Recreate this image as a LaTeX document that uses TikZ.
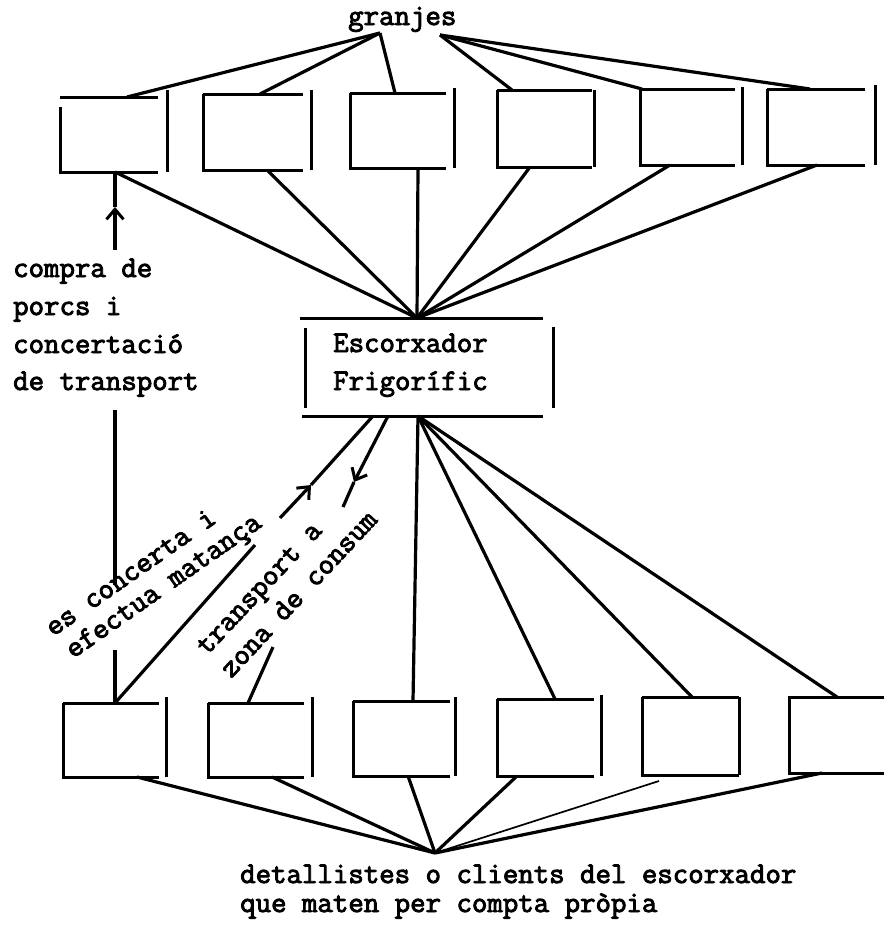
\documentclass[tikz,border=0pt]{standalone}
\usepackage{fontspec}
\setmonofont{Latin Modern Mono}[FakeBold=3]
\usetikzlibrary{arrows.meta}
\newcommand{\bbox}[7]{%
  \draw[boxln] (#1,#3) -- (#2,#3);
  \draw[boxln] (#1,#5) -- (#1,#4) -- (#2,#4);
  \draw[boxln] (#6,#7) -- (#6,#4);}
\begin{document}
\begin{tikzpicture}[x=1pt,y=-1pt,
  boxln/.style={line width=3pt},
  cn/.style={line width=3.2pt},
  cnthin/.style={line width=1.7pt},
  barb/.style={-{Straight Barb[length=10pt,width=17pt,line width=3pt]}},
  txt/.style={font=\ttfamily\fontsize{30}{37.7}\selectfont, inner sep=0pt, anchor=base west}]
\useasboundingbox (0,0) rectangle (887,929);
% top row boxes
\bbox{60}{158}{97}{172}{107}{167}{90}
\bbox{203}{303}{94}{170}{94}{311}{90}
\bbox{350}{446}{93}{168}{93}{454}{88}
\bbox{497}{592}{90}{167}{90}{594}{90}
\bbox{640}{735}{89}{165}{89}{742}{87}
\bbox{767}{865}{89}{165}{89}{875}{85}
% escorxador box
\draw[boxln] (300,318) -- (543,318);
\draw[boxln] (305,328) -- (305,408);
\draw[boxln] (553,327) -- (553,408);
\draw[boxln] (302,416) -- (543,416);
% bottom row boxes
\bbox{63}{159}{703}{777}{703}{166}{697}
\bbox{208}{304}{703}{777}{703}{312}{697}
\bbox{353}{450}{701}{776}{701}{455}{697}
\bbox{497}{594}{699}{776}{699}{601}{695}
\bbox{642}{739}{697}{775}{697}{739}{697}
\draw[boxln] (884,697) -- (789,697) -- (789,773) -- (884,773);
% texts
\node[txt] (granjes) at (348,25) {granjes};
\node[txt] (c1) at (13,277) {compra de};
\node[txt] (c2) at (13,315) {porcs i};
\node[txt] (c3) at (13,353) {concertació};
\node[txt] (c4) at (13,390) {de transport};
\node[txt] (e1) at (333,352) {Escorxador};
\node[txt] (e2) at (333,390) {Frigorífic};
\node[txt,rotate=35] (m1) at (53,637) {es concerta i};
\node[txt,rotate=35] (m2) at (73,659) {efectua matança};
\node[txt,rotate=47] (tr1) at (207,656) {transport a};
\node[txt,rotate=47] (tr2) at (231,679) {zona de consum};
\node[txt] (dt1) at (240,883) {detallistes o clients del escorxador};
\node[txt] (dt2) at (240,912) {que maten per compta pròpia};
% coordinates
\coordinate (g1) at (380,33); \coordinate (g2) at (440,35);
\coordinate (t1) at (127,97); \coordinate (t2) at (260,94); \coordinate (t3) at (395,93);
\coordinate (t4) at (512,90); \coordinate (t5) at (642,89); \coordinate (t6) at (810,89);
\coordinate (u1) at (115,172); \coordinate (u2) at (267,170); \coordinate (u3) at (418,168);
\coordinate (u4) at (530,167); \coordinate (u5) at (670,165); \coordinate (u6) at (817,165);
\coordinate (et) at (417,318);
\coordinate (ea) at (373,416); \coordinate (eb) at (388,416); \coordinate (ec) at (418,416);
\coordinate (d1) at (115,703); \coordinate (d2) at (248,703); \coordinate (d3) at (413,701);
\coordinate (d4) at (555,699); \coordinate (d5) at (692,697); \coordinate (d6) at (837,697);
\coordinate (l1) at (137,777); \coordinate (l2) at (272,777); \coordinate (l3) at (408,776);
\coordinate (l4) at (517,776); \coordinate (l5) at (659,781); \coordinate (l6) at (822,773);
\coordinate (dd) at (435,853);
\coordinate (aA) at (255,545); \coordinate (aB) at (280,518); \coordinate (aC) at (311,485);
\coordinate (bA) at (354,482); \coordinate (bB) at (343,507); \coordinate (bC) at (273,647);
\coordinate (cA) at (115,207); \coordinate (cB) at (115,250); \coordinate (cC) at (115,410);
\coordinate (cD) at (115,585); \coordinate (cE) at (115,650);
% granjes connectors
\foreach \p in {t1,t2,t3} \draw[cn] (g1) -- (\p);
\foreach \p in {t4,t5,t6} \draw[cn] (g2) -- (\p);
% top boxes to escorxador
\foreach \p in {u1,u2,u3,u4,u5,u6} \draw[cn] (\p) -- (et);
% compra de porcs line
\draw[cn,barb] (cB) -- (cA);
\draw[cn] (cA) -- (u1);
\draw[cn] (cC) -- (cD);
\draw[cn] (cE) -- (d1);
% es concerta line
\draw[cn] (d1) -- (aA);
\draw[cn,barb] (aB) -- (aC);
\draw[cn] (aC) -- (ea);
% transport line
\draw[cn,barb] (eb) -- (bA);
\draw[cn] (bA) -- (bB);
\draw[cn] (bC) -- (d2);
% escorxador to bottom boxes
\foreach \p in {d3,d4,d5,d6} \draw[cn] (ec) -- (\p);
% bottom boxes to detallistes
\foreach \p in {l1,l2,l3,l4,l6} \draw[cn] (\p) -- (dd);
\draw[cnthin] (l5) -- (dd);
\end{tikzpicture}
\end{document}
